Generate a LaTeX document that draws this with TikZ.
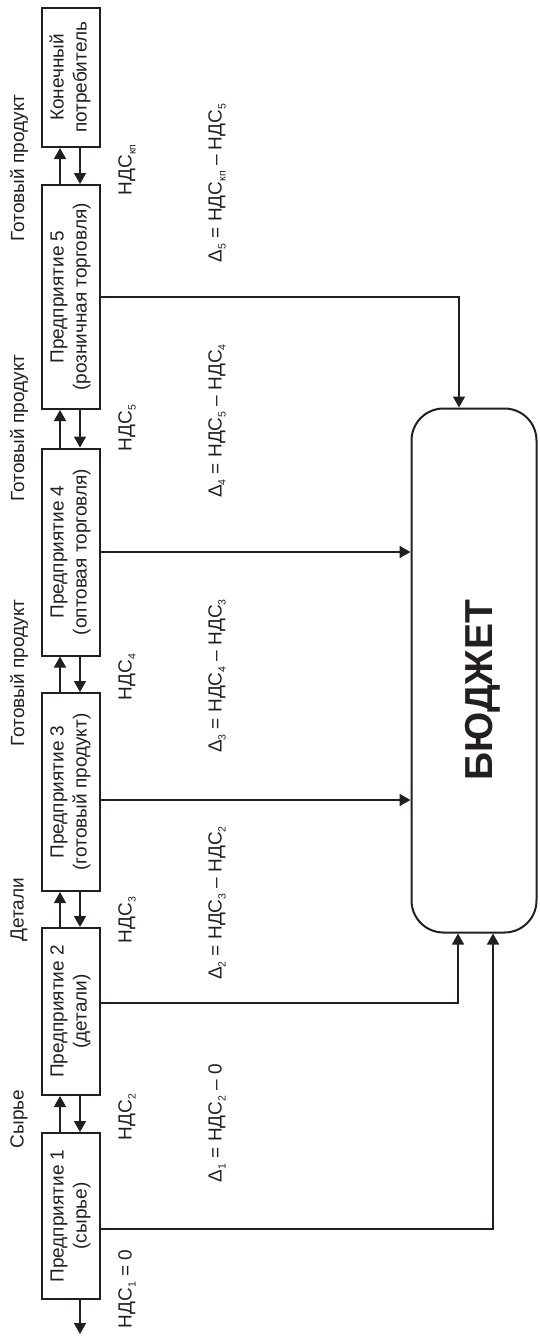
\documentclass[tikz,border=0pt]{standalone}
\usepackage{fontspec}
\setmainfont{Liberation Sans}
\usepackage{graphicx}
\usetikzlibrary{arrows.meta}
\definecolor{ink}{HTML}{231F20}
\newcommand{\sbs}[1]{\raisebox{-4pt}{\fontsize{10.5}{10.5}\selectfont #1}}
\newcommand{\boxtext}[2]{\rotatebox{90}{\begin{tabular}{@{}c@{}}#1\\#2\end{tabular}}}
\begin{document}
\begin{tikzpicture}[x=1pt,y=-1pt,
  box/.style={draw=ink, line width=2pt, minimum width=58pt, inner sep=0pt, text=ink,
    font=\fontsize{19}{23}\selectfont},
  con/.style={draw=ink, line width=1.6pt},
  arr/.style={con, -{Triangle[length=11pt,width=12pt]}},
  lbl/.style={font=\fontsize{19}{23}\selectfont, text=ink, rotate=90, inner sep=0pt},
]
\useasboundingbox (0,0) rectangle (539,1338);

% boxes
\node[box, minimum height=139pt] (cons) at (70.5,77.5) {\boxtext{Конечный}{потребитель}};
\node[box, minimum height=224pt] (b5) at (70.5,297) {\boxtext{Предприятие 5}{(розничная торговля)}};
\node[box, minimum height=207pt] (b4) at (70.5,552) {\boxtext{Предприятие 4}{(оптовая торговля)}};
\node[box, minimum height=198pt] (b3) at (70.5,792) {\boxtext{Предприятие 3}{(готовый продукт)}};
\node[box, minimum height=167pt] (b2) at (70.5,1011.5) {\boxtext{Предприятие 2}{(детали)}};
\node[box, minimum height=166pt] (b1) at (70.5,1216) {\boxtext{Предприятие 1}{(сырье)}};

\node[draw=ink, line width=2pt, rounded corners=32pt, minimum width=125pt, minimum height=524pt, inner sep=0pt]
  (budget) at (474,670.5) {};
\node[text=ink, rotate=90, inner sep=0pt, font=\fontsize{39}{39}\selectfont\bfseries] (btext) at (483,690) {БЮДЖЕТ};

% helper coordinates
\coordinate (xu) at (60,0);
\coordinate (xd) at (80,0);
\coordinate (out) at (80,1334);
\coordinate (x5) at (459,0);
\coordinate (x2) at (458,0);
\coordinate (x1) at (493,0);
\coordinate (y3) at (0,800);
\coordinate (y2) at (0,1003);
\coordinate (y1) at (0,1229);

% flows between enterprises
\foreach \lo/\hi in {b1/b2, b2/b3, b3/b4, b4/b5, b5/cons}{
  \draw[arr] (\lo.north -| xu) -- (\hi.south -| xu);
  \draw[arr] (\hi.south -| xd) -- (\lo.north -| xd);
}
\draw[arr] (b1.south -| xd) -- (out);

% payments to the budget
\draw[arr] (b5.east) -| (budget.north -| x5);
\draw[arr] (b4.east) -- (b4.east -| budget.west);
\draw[arr] (b3.east |- y3) -- (budget.west |- y3);
\draw[arr] (b2.east |- y2) -| (budget.south -| x2);
\draw[arr] (b1.east |- y1) -| (budget.south -| x1);

% product labels
\node[lbl] (l1) at (19,1119) {Сырье};
\node[lbl] (l2) at (19,910) {Детали};
\node[lbl] (l3) at (19,673) {Готовый продукт};
\node[lbl] (l4) at (19,428) {Готовый продукт};
\node[lbl] (l5) at (19,168) {Готовый продукт};

% VAT labels
\node[lbl] (n1) at (127,1289) {НДС\sbs{1} = 0};
\node[lbl] (n2) at (127,1117) {НДС\sbs{2}};
\node[lbl] (n3) at (127,920) {НДС\sbs{3}};
\node[lbl] (n4) at (127,677) {НДС\sbs{4}};
\node[lbl] (n5) at (127,428) {НДС\sbs{5}};
\node[lbl] (nk) at (127,170) {НДС\sbs{кп}};

% differences
\node[lbl] (d1) at (217,1123) {Δ\sbs{1} = НДС\sbs{2} – 0};
\node[lbl] (d2) at (217,903) {Δ\sbs{2} = НДС\sbs{3} – НДС\sbs{2}};
\node[lbl] (d3) at (217,676) {Δ\sbs{3} = НДС\sbs{4} – НДС\sbs{3}};
\node[lbl] (d4) at (217,421) {Δ\sbs{4} = НДС\sbs{5} – НДС\sbs{4}};
\node[lbl] (d5) at (217,183) {Δ\sbs{5} = НДС\sbs{кп} – НДС\sbs{5}};
\end{tikzpicture}
\end{document}
